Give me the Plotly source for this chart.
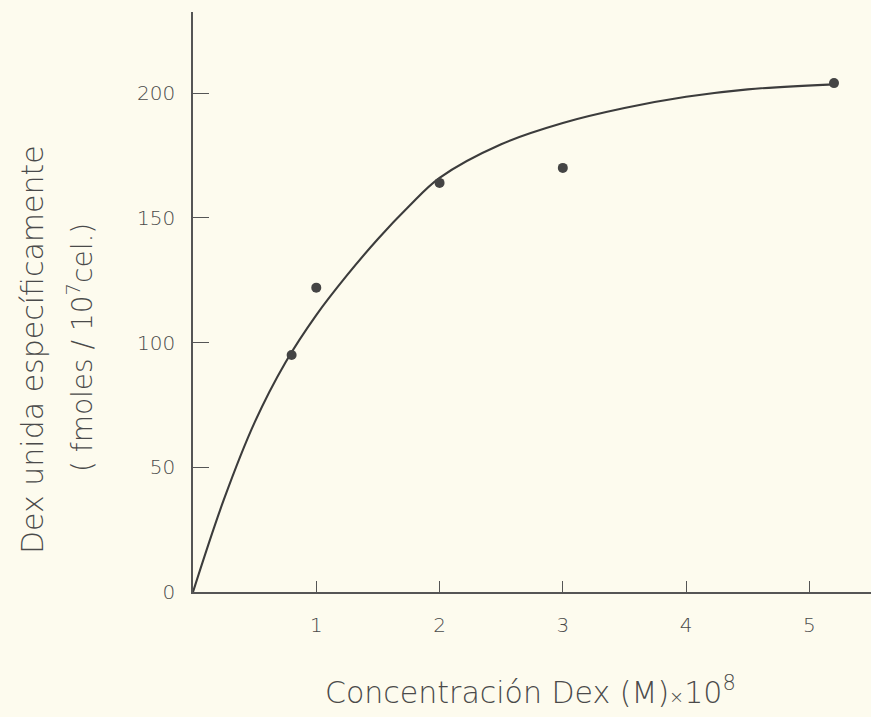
import plotly.graph_objects as go

# Measured data points
conc_points = [0.8, 1.0, 2.0, 3.0, 5.2]
bound_points = [95, 122, 164, 170, 204]

# Fitted curve
conc_curve = [0, 0.25, 0.5, 0.75, 1.0, 1.25, 1.5, 1.75, 2.0, 2.5, 3.0, 3.5, 4.0, 4.5, 5.2]
bound_curve = [0, 37, 68, 92, 111, 127, 141.5, 154.5, 166, 179.5, 188, 194, 198.5, 201.5, 203.5]

x_ticks = [1, 2, 3, 4, 5]
y_ticks = [0, 50, 100, 150, 200]

bg = "#FDFBEE"
ink = "#3c3c3c"
font_family = "'DejaVu Sans', sans-serif"
text_col = "#4a4a4a"

fig = go.Figure()
fig.add_trace(go.Scatter(
    x=conc_curve, y=bound_curve, mode="lines",
    line=dict(color=ink, width=2.1, shape="spline", smoothing=1.0),
    hoverinfo="skip", showlegend=False,
))
fig.add_trace(go.Scatter(
    x=conc_points, y=bound_points, mode="markers",
    marker=dict(color="#444444", size=10),
    showlegend=False,
))

tick_font = dict(family=font_family, size=20, color=text_col, weight=200)
title_font = dict(family=font_family, size=30, color=text_col, weight=200)
title2_font = dict(family=font_family, size=28, color=text_col, weight=200)

fig.update_layout(
    width=871, height=717,
    margin=dict(l=193, r=0, t=12, b=125),
    paper_bgcolor=bg, plot_bgcolor=bg,
    font=dict(family=font_family, color=text_col, size=20),
    xaxis=dict(
        range=[0, 5.5], tickvals=x_ticks, ticktext=[str(v) for v in x_ticks],
        showgrid=False, zeroline=False, showline=True, linecolor="#555555", linewidth=1.6,
        ticks="inside", ticklen=11, tickwidth=1.4, tickcolor="#555555",
        ticklabelstandoff=14, tickfont=tick_font,
    ),
    yaxis=dict(
        range=[0, 232.5], tickvals=y_ticks, ticktext=[str(v) for v in y_ticks],
        showgrid=False, zeroline=False, showline=True, linecolor="#555555", linewidth=1.6,
        ticks="inside", ticklen=16, tickwidth=1.4, tickcolor="#555555",
        ticklabelstandoff=12, tickfont=tick_font,
    ),
    annotations=[
        dict(text="Concentración Dex (M)<span style='font-size:18px'>×</span>10<sup>8</sup>",
             xref="paper", yref="paper", x=(530 - 193) / 678, y=-(690 - 592) / 580,
             xanchor="center", yanchor="middle", showarrow=False,
             font=title_font),
        dict(text="Dex unida específicamente",
             xref="paper", yref="paper", x=(33 - 193) / 678, y=(592 - 350) / 580,
             xanchor="center", yanchor="middle", textangle=-90, showarrow=False,
             font=title_font),
        dict(text="( fmoles / 10<sup>7</sup>cel.)",
             xref="paper", yref="paper", x=(80 - 193) / 678, y=(592 - 348) / 580,
             xanchor="center", yanchor="middle", textangle=-90, showarrow=False,
             font=title2_font),
    ],
)

fig.write_html("out.html")
